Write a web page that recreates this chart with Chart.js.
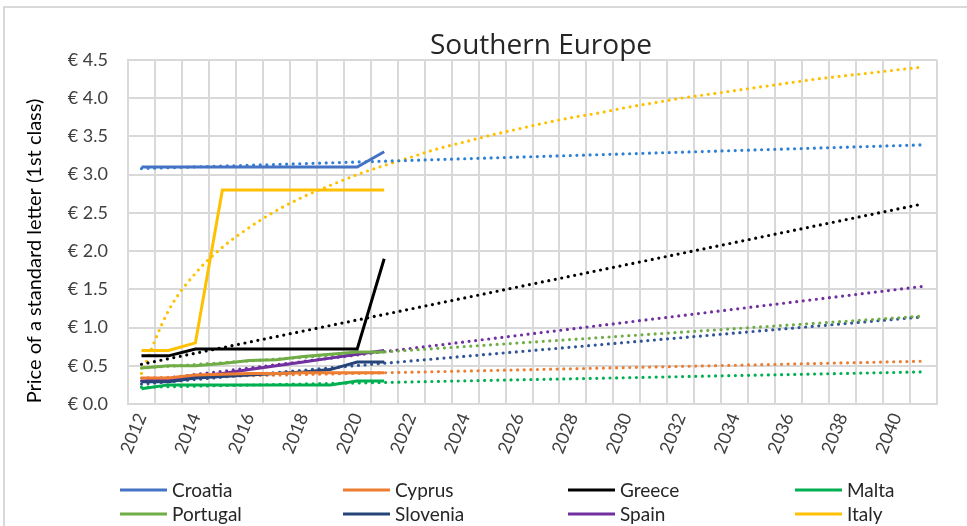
<!DOCTYPE html>
<html><head><meta charset="utf-8">
<script src="https://cdn.jsdelivr.net/npm/chart.js@4"></script>
<style>html,body{margin:0;padding:0;background:#fff;}#wrap{width:967px;height:526px;position:relative;}</style>
</head><body><div id="wrap"><canvas id="c" width="967" height="526"></canvas></div>
<script>
const years = ['2012','2013','2014','2015','2016','2017','2018','2019','2020','2021',
  '2022','2023','2024','2025','2026','2027','2028','2029','2030','2031',
  '2032','2033','2034','2035','2036','2037','2038','2039','2040','2041'];
const tickYears = ['2012','2014','2016','2018','2020','2022','2024','2026','2028','2030','2032','2034','2036','2038','2040'];
const yTicks = [0,0.5,1,1.5,2,2.5,3,3.5,4,4.5];

const countries = ['Croatia','Cyprus','Greece','Malta','Portugal','Slovenia','Spain','Italy'];
// observed prices 2012-2021
const croatia  = [3.10,3.10,3.10,3.10,3.10,3.10,3.10,3.10,3.10,3.30];
const cyprus   = [0.34,0.34,0.38,0.39,0.40,0.40,0.41,0.41,0.41,0.41];
const greece   = [0.63,0.63,0.72,0.72,0.72,0.72,0.72,0.72,0.72,1.90];
const malta    = [0.20,0.25,0.25,0.25,0.25,0.25,0.25,0.25,0.30,0.30];
const portugal = [0.47,0.50,0.50,0.53,0.57,0.58,0.62,0.65,0.68,0.68];
const slovenia = [0.29,0.29,0.34,0.36,0.38,0.40,0.42,0.45,0.55,0.55];
const spain    = [0.30,0.32,0.36,0.40,0.45,0.50,0.55,0.60,0.65,0.70];
const italy    = [0.70,0.70,0.80,2.80,2.80,2.80,2.80,2.80,2.80,2.80];
// linear trendlines: value at 2012 and at 2041
const croatiaTrend  = [3.08, 3.39];
const cyprusTrend   = [0.34, 0.56];
const greeceTrend   = [0.52, 2.62];
const maltaTrend    = [0.22, 0.42];
const portugalTrend = [0.47, 1.15];
const sloveniaTrend = [0.26, 1.14];
const spainTrend    = [0.30, 1.54];
// Italy logarithmic trendline, read per year 2012-2041
const italyTrend = [0.40,1.22,1.71,2.05,2.31,2.53,2.71,2.86,3.00,3.12,
  3.23,3.34,3.43,3.52,3.60,3.68,3.75,3.81,3.88,3.94,
  4.00,4.05,4.10,4.15,4.20,4.25,4.29,4.33,4.37,4.41];

const lineColors  = ['#4472C4','#ED7D31','#000000','#00B050','#70AD47','#264478','#7030A0','#FFC000'];
const trendColors = ['#2E7FD6','#ED7D31','#000000','#00B050','#70AD47','#2F5597','#7030A0','#FFC000'];

const seriesData = [croatia,cyprus,greece,malta,portugal,slovenia,spain,italy];
const trendPairs = [croatiaTrend,cyprusTrend,greeceTrend,maltaTrend,portugalTrend,sloveniaTrend,spainTrend,null];

function endpointsToRow(pair){
  const row = years.map(()=>null);
  row[0] = pair[0]; row[years.length-1] = pair[1];
  return row;
}

const datasets = [];
countries.forEach((name,i)=>{
  datasets.push({label:name, data:seriesData[i], borderColor:lineColors[i], backgroundColor:lineColors[i],
    borderWidth:3, pointRadius:0, tension:0, fill:false});
});
countries.forEach((name,i)=>{
  const d = trendPairs[i] ? endpointsToRow(trendPairs[i]) : italyTrend;
  datasets.push({label:name+' trend', data:d, borderColor:trendColors[i], backgroundColor:trendColors[i],
    borderWidth:3.2, borderDash:[0,6.6], borderCapStyle:'round', pointRadius:0, spanGaps:true,
    cubicInterpolationMode: trendPairs[i] ? 'default' : 'monotone', fill:false});
});

const FONT = 'Lato, "Open Sans", sans-serif';

const decor = {
  id:'decor',
  beforeDraw(chart){
    const ctx = chart.ctx;
    ctx.save();
    ctx.strokeStyle = '#D9D9D9'; ctx.lineWidth = 2;
    ctx.beginPath(); ctx.moveTo(4, 526); ctx.lineTo(4, 7); ctx.lineTo(967, 7); ctx.stroke();
    ctx.restore();
  },
  afterDraw(chart){
    const ctx = chart.ctx;
    ctx.save();
    // title
    ctx.fillStyle = '#262626';
    ctx.font = '28px "Open Sans", sans-serif';
    ctx.textAlign = 'center'; ctx.textBaseline = 'middle';
    ctx.fillText('Southern Europe', 541, 46);
    // y axis title
    ctx.save();
    ctx.translate(35, 251);
    ctx.rotate(-Math.PI/2);
    ctx.font = '20px ' + FONT;
    ctx.fillStyle = '#000000';
    ctx.fillText('Price of a standard letter (1st class)', 0, 0);
    ctx.restore();
    // legend
    const cols = [120, 343, 568, 795];
    const rows = [490, 514];
    ctx.font = '19px ' + FONT;
    ctx.textAlign = 'left'; ctx.textBaseline = 'middle';
    countries.forEach((name,i)=>{
      const x = cols[i%4], y = rows[Math.floor(i/4)];
      ctx.strokeStyle = lineColors[i]; ctx.lineWidth = 3; ctx.lineCap = 'butt';
      ctx.beginPath(); ctx.moveTo(x, y); ctx.lineTo(x+47, y); ctx.stroke();
      ctx.fillStyle = '#262626';
      ctx.fillText(name, x+52, y+1);
    });
    ctx.restore();
  }
};

new Chart(document.getElementById('c'), {
  type:'line',
  data:{labels:years, datasets},
  options:{
    responsive:false, animation:false, devicePixelRatio:1,
    layout:{padding:{left:0, right:30, top:60, bottom:0}},
    plugins:{legend:{display:false}, title:{display:false}, tooltip:{enabled:false}},
    scales:{
      x:{type:'category', offset:true,
        grid:{offset:true, color:'#D9D9D9', lineWidth:2, drawTicks:false},
        border:{color:'#D9D9D9', width:2},
        ticks:{autoSkip:false, minRotation:68, maxRotation:68, padding:6, color:'#404040',
          font:{family:FONT, size:18},
          callback:function(v,i){ const l = years[i]; return tickYears.includes(l) ? l : ''; }},
        afterFit(s){ s.height = 122; }
      },
      y:{min:0, max:4.5,
        afterBuildTicks(s){ s.ticks = yTicks.map(v=>({value:v})); },
        grid:{color:'#D9D9D9', lineWidth:2, drawTicks:false},
        border:{color:'#D9D9D9', width:2},
        ticks:{padding:20, color:'#404040', font:{family:FONT, size:18},
          callback:v=>'€ ' + Number(v).toFixed(1)},
        afterFit(s){ s.width = 128; }
      }
    }
  },
  plugins:[decor]
});
</script></body></html>
